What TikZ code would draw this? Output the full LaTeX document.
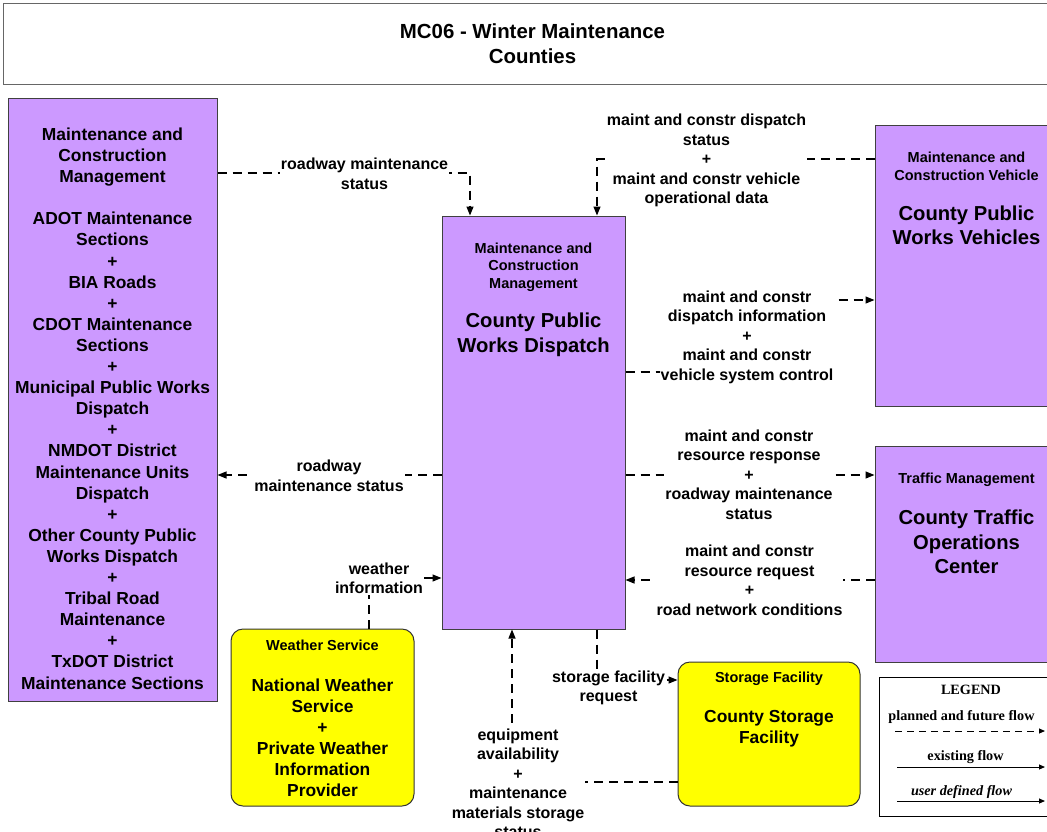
\documentclass[tikz,border=0pt]{standalone}
\usepackage{fontspec}
\setmainfont{Liberation Sans}
\newfontfamily\legendfont{Liberation Serif}
\usetikzlibrary{positioning, arrows.meta, calc}
\definecolor{mcpurple}{RGB}{204,153,255}
\definecolor{wxyellow}{RGB}{255,255,0}
\newcommand\titlefont{\fontsize{20.4}{25}\selectfont\bfseries}
\newcommand\bigfont{\fontsize{20.2}{24.5}\selectfont\bfseries}
\newcommand\boxfont{\fontsize{17.4}{21.1}\selectfont\bfseries}
\newcommand\hdrfont{\fontsize{14.5}{17.7}\selectfont\bfseries}
\newcommand\lblfont{\fontsize{16}{19.5}\selectfont\bfseries}
\newcommand\lgdfont{\fontsize{14.2}{17}\selectfont\legendfont\bfseries}

\begin{document}
\begin{tikzpicture}[x=1pt, y=-1pt,
    titlebox/.style={draw=black!60, line width=1pt, minimum width=1059pt, minimum height=81pt, inner sep=0pt, align=center, font=\titlefont},
    purplebox/.style={draw=black!75, fill=mcpurple, line width=1pt, inner sep=0pt},
    yellowbox/.style={draw=black!80, fill=wxyellow, line width=1pt, rounded corners=12pt, inner sep=0pt},
    boxtext/.style={inner sep=0pt, yshift=-1.5pt, align=center, font=\boxfont},
    bigtext/.style={inner sep=0pt, yshift=-1.5pt, align=center, font=\bigfont},
    hdrtext/.style={inner sep=0pt, yshift=-1.5pt, align=center, font=\hdrfont},
    flow/.style={line width=1.2pt, dash pattern=on 9pt off 6pt, -{Triangle[length=9pt, width=7pt]}},
    flowlabel/.style={fill=white, inner sep=1pt, yshift=-1.5pt, align=center, font=\lblfont},
    lgdtext/.style={inner sep=0pt, font=\lgdfont}]

    \useasboundingbox (0,0) rectangle (1047,831);

    % ===== Title =====
    \node[titlebox] (title) at (532.5,43.5) {MC06 - Winter Maintenance\\Counties};

    % ===== Maintenance and construction management (left) =====
    \node[purplebox, minimum width=209pt, minimum height=603pt] (lmc) at (112.5,399.5) {};
    \node[boxtext] (lmctext) at (112.5,407) {Maintenance and\\Construction\\Management\\[21.1pt]ADOT Maintenance\\Sections\\+\\BIA Roads\\+\\CDOT Maintenance\\Sections\\+\\Municipal Public Works\\Dispatch\\+\\NMDOT District\\Maintenance Units\\Dispatch\\+\\Other County Public\\Works Dispatch\\+\\Tribal Road\\Maintenance\\+\\TxDOT District\\Maintenance Sections};

    % ===== County public works dispatch (centre) =====
    \node[purplebox, minimum width=183pt, minimum height=413pt] (dsp) at (533.5,422.5) {};
    \node[hdrtext] (dsphdr) at (533.5,265.5) {Maintenance and\\Construction\\Management};
    \node[bigtext] (dspname) at (533.5,333.5) {County Public\\Works Dispatch};

    % ===== Vehicles =====
    \node[purplebox, minimum width=183pt, minimum height=281pt] (veh) at (966.5,265.5) {};
    \node[hdrtext] (vehhdr) at (966.5,165) {Maintenance and\\Construction Vehicle};
    \node[bigtext] (vehname) at (966.5,224) {County Public\\Works Vehicles};

    % ===== Traffic operations =====
    \node[purplebox, minimum width=183pt, minimum height=216pt] (tmc) at (966.5,554) {};
    \node[hdrtext] (tmchdr) at (966.5,478) {Traffic Management};
    \node[bigtext] (tmcname) at (966.5,540.5) {County Traffic\\Operations\\Center};

    % ===== Weather service =====
    \node[yellowbox, minimum width=183pt, minimum height=177pt] (wx) at (322.5,717.5) {};
    \node[hdrtext] (wxhdr) at (322.5,644) {Weather Service};
    \node[boxtext] (wxname) at (322.5,736.5) {National Weather\\Service\\+\\Private Weather\\Information\\Provider};

    % ===== Storage facility =====
    \node[yellowbox, minimum width=182pt, minimum height=144pt] (sto) at (769,734) {};
    \node[hdrtext] (stohdr) at (769,677) {Storage Facility};
    \node[boxtext] (stoname) at (769,727.5) {County Storage\\Facility};

    % ===== Flows =====
    \draw[flow] (lmc.east |- 0,173) -| (470,0 |- dsp.north);
    \draw[flow] (veh.west |- 0,159) -| (597,0 |- dsp.north);
    \draw[flow] (dsp.east |- 0,372) -- (747,372) |- (veh.west |- 0,300);
    \draw[flow] (dsp.east |- 0,475) -- (tmc.west |- 0,475);
    \draw[flow] (tmc.west |- 0,580) -- (dsp.east |- 0,580);
    \draw[flow] (dsp.west |- 0,475) -- (lmc.east |- 0,475);
    \draw[flow] (369,0 |- wx.north) |- (dsp.west |- 0,578);
    \draw[flow] (597,0 |- dsp.south) |- (sto.west |- 0,680);
    \draw[flow] (sto.west |- 0,782) -| (512,0 |- dsp.south);

    % flow labels (drawn over the lines)
    \node[flowlabel] (rmsa) at (364.5,172.5) {roadway maintenance\\status};
    \node[flowlabel] (mcds) at (706.5,159) {maint and constr dispatch\\status\\+\\maint and constr vehicle\\operational data};
    \node[flowlabel] (mcdi) at (747,335.5) {maint and constr\\dispatch information\\+\\maint and constr\\vehicle system control};
    \node[flowlabel] (mcrr) at (749,473) {maint and constr\\resource response\\+\\roadway maintenance\\status};
    \node[flowlabel] (mcrq) at (749.5,579) {maint and constr\\resource request\\+\\road network conditions};
    \node[flowlabel] (rmsb) at (329,474.5) {roadway\\maintenance status};
    \node[flowlabel] (wxinfo) at (379,577) {weather\\information};
    \node[flowlabel] (sfreq) at (608.5,686.5) {storage facility\\request};
    \node[flowlabel] (eqav) at (518,782) {equipment\\availability\\+\\maintenance\\materials storage\\status};

    % ===== Legend =====
    \node[draw=black, line width=1pt, minimum width=173pt, minimum height=139pt, inner sep=0pt] (legend) at (965.5,746.5) {};
    \node[lgdtext] (lgdtitle) at (971,690) {LEGEND};
    \node[lgdtext] (lgdplan) at (961.5,717) {planned and future flow};
    \node[lgdtext] (lgdexist) at (965.5,757) {existing flow};
    \node[lgdtext, font=\lgdfont\itshape] (lgduser) at (961.5,792) {user defined flow};
    \coordinate (plana) at (895,731);
    \coordinate (planb) at (1045,731);
    \coordinate (exista) at (897,767);
    \coordinate (existb) at (1045,767);
    \coordinate (usera) at (897,801);
    \coordinate (userb) at (1045,801);
    \draw[line width=1pt, dash pattern=on 7pt off 5pt, -{Triangle[length=6pt, width=5pt]}] (plana) -- (planb);
    \draw[line width=1pt, -{Triangle[length=6pt, width=5pt]}] (exista) -- (existb);
    \draw[line width=1pt, -{Triangle[length=6pt, width=5pt]}] (usera) -- (userb);

\end{tikzpicture}
\end{document}
